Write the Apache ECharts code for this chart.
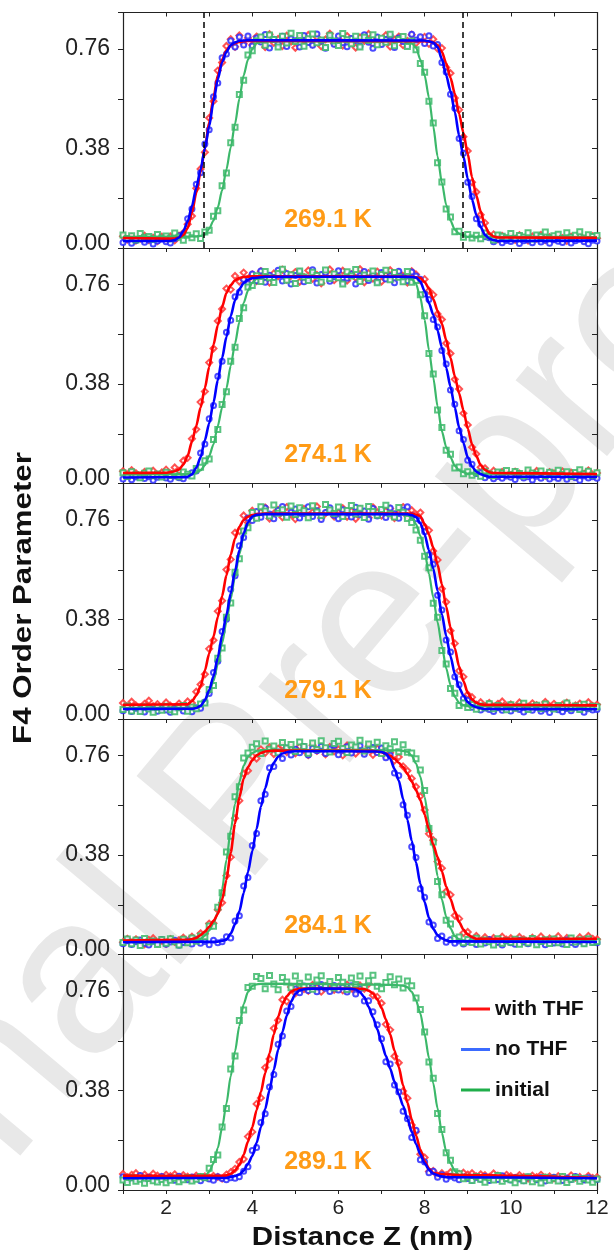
<!DOCTYPE html>
<html>
<head>
<meta charset="utf-8">
<script src="https://cdn.jsdelivr.net/npm/echarts@6/dist/echarts.min.js"></script>
<style>
html,body{margin:0;padding:0;background:#fff;}
#chart{width:614px;height:1256px;}
</style>
</head>
<body>
<div id="chart"></div>
<script>
// ---------------- DATA ----------------
const TEMPERATURES = ['269.1 K', '274.1 K', '279.1 K', '284.1 K', '289.1 K'];
const SERIES_NAMES = ['with THF', 'no THF', 'initial'];
const X_TICK_LABELS = [2, 4, 6, 8, 10, 12];
const Y_TICK_LABELS = [0.00, 0.38, 0.76];
const DASH_Z = [2.88, 8.89];   // dashed markers in the 269.1 K panel

// bin centres (nm) shared by all scatter sets
const X_BINS = [1.0,1.1,1.2,1.3,1.4,1.5,1.6,1.7,1.8,1.9,
2.0,2.1,2.2,2.3,2.4,2.5,2.6,2.7,2.8,2.9,
3.0,3.1,3.2,3.3,3.4,3.5,3.6,3.7,3.8,3.9,
4.0,4.1,4.2,4.3,4.4,4.5,4.6,4.7,4.8,4.9,
5.0,5.1,5.2,5.3,5.4,5.5,5.6,5.7,5.8,5.9,
6.0,6.1,6.2,6.3,6.4,6.5,6.6,6.7,6.8,6.9,
7.0,7.1,7.2,7.3,7.4,7.5,7.6,7.7,7.8,7.9,
8.0,8.1,8.2,8.3,8.4,8.5,8.6,8.7,8.8,8.9,
9.0,9.1,9.2,9.3,9.4,9.5,9.6,9.7,9.8,9.9,
10.0,10.1,10.2,10.3,10.4,10.5,10.6,10.7,10.8,10.9,
11.0,11.1,11.2,11.3,11.4,11.5,11.6,11.7,11.8,11.9,
12.0];

// ---- 269.1 K ----
const P1_WITH_THF_PTS = [0.045,0.032,0.041,0.028,0.036,0.047,0.030,0.039,0.026,0.043,
0.031,0.044,0.029,0.047,0.058,0.091,0.122,0.228,0.302,0.366,
0.497,0.561,0.678,0.709,0.772,0.798,0.769,0.812,0.781,0.803,
0.776,0.808,0.795,0.768,0.817,0.784,0.799,0.772,0.811,0.789,
0.765,0.802,0.793,0.814,0.778,0.806,0.771,0.797,0.819,0.782,
0.799,0.774,0.81,0.787,0.766,0.805,0.792,0.818,0.779,0.801,
0.786,0.813,0.77,0.796,0.808,0.775,0.791,0.815,0.783,0.8,
0.807,0.78,0.798,0.762,0.764,0.69,0.668,0.573,0.528,0.425,
0.371,0.251,0.214,0.127,0.096,0.048,0.052,0.033,0.046,0.035,
0.042,0.031,0.049,0.037,0.028,0.044,0.036,0.05,0.03,0.041,
0.034,0.046,0.038,0.027,0.043,0.035,0.048,0.032,0.04,0.045,
0.037];
const P1_NO_THF_PTS = [0.021,0.033,0.018,0.029,0.036,0.022,0.031,0.015,0.027,0.034,
0.024,0.019,0.035,0.047,0.052,0.112,0.149,0.244,0.288,0.397,
0.452,0.578,0.631,0.727,0.741,0.792,0.768,0.806,0.776,0.81,
0.772,0.803,0.787,0.816,0.764,0.798,0.781,0.809,0.77,0.8,
0.792,0.768,0.812,0.785,0.775,0.818,0.79,0.763,0.804,0.779,
0.81,0.784,0.769,0.801,0.793,0.772,0.815,0.786,0.763,0.806,
0.778,0.797,0.811,0.766,0.803,0.789,0.774,0.817,0.795,0.807,
0.782,0.811,0.772,0.778,0.709,0.673,0.588,0.534,0.418,0.362,
0.251,0.197,0.112,0.091,0.043,0.039,0.024,0.033,0.02,0.029,
0.025,0.034,0.017,0.028,0.031,0.02,0.036,0.023,0.03,0.018,
0.032,0.026,0.021,0.035,0.019,0.028,0.033,0.024,0.016,0.03,
0.027];
const P1_INITIAL_PTS = [0.05,0.036,0.047,0.031,0.055,0.04,0.044,0.033,0.052,0.038,
0.046,0.035,0.057,0.041,0.03,0.049,0.039,0.054,0.036,0.061,
0.068,0.121,0.142,0.238,0.287,0.402,0.461,0.587,0.641,0.738,
0.754,0.792,0.806,0.775,0.814,0.797,0.768,0.809,0.783,0.821,
0.789,0.812,0.771,0.8,0.818,0.784,0.795,0.766,0.813,0.791,
0.774,0.82,0.796,0.781,0.809,0.768,0.805,0.793,0.815,0.777,
0.802,0.786,0.817,0.773,0.797,0.808,0.77,0.791,0.758,0.705,
0.672,0.561,0.478,0.326,0.252,0.149,0.118,0.062,0.064,0.041,
0.052,0.038,0.049,0.035,0.057,0.043,0.031,0.05,0.045,0.039,
0.055,0.037,0.048,0.042,0.058,0.034,0.05,0.044,0.061,0.039,
0.047,0.053,0.036,0.058,0.041,0.049,0.062,0.038,0.051,0.044,
0.048];
const P1_WITH_THF_FIT = [[1,0.038],[2.0,0.036],[2.2,0.036],[2.3,0.04],[2.4,0.05],[2.5,0.075],[2.6,0.135],[2.7,0.21],[2.8,0.29],[2.9,0.38],[3.0,0.48],[3.1,0.575],[3.2,0.66],[3.3,0.72],[3.4,0.755],[3.5,0.775],[3.6,0.783],[3.7,0.788],[3.9,0.792],[8.0,0.79],[8.1,0.789],[8.2,0.785],[8.3,0.776],[8.4,0.75],[8.5,0.706],[8.6,0.65],[8.7,0.59],[8.8,0.513],[8.9,0.44],[9.0,0.36],[9.1,0.27],[9.2,0.2],[9.3,0.14],[9.4,0.085],[9.5,0.055],[9.6,0.044],[9.7,0.04],[12,0.039]];
const P1_NO_THF_FIT = [[1,0.027],[2.1,0.027],[2.2,0.03],[2.3,0.04],[2.4,0.065],[2.5,0.1],[2.6,0.16],[2.7,0.23],[2.8,0.3],[2.9,0.38],[3.0,0.465],[3.1,0.56],[3.2,0.645],[3.3,0.71],[3.4,0.75],[3.5,0.775],[3.6,0.786],[3.7,0.792],[3.9,0.794],[8.0,0.793],[8.1,0.79],[8.2,0.785],[8.3,0.768],[8.4,0.722],[8.5,0.66],[8.6,0.6],[8.7,0.52],[8.8,0.43],[8.9,0.35],[9.0,0.265],[9.1,0.185],[9.2,0.126],[9.3,0.08],[9.4,0.05],[9.5,0.036],[9.6,0.03],[9.7,0.027],[12,0.028]];
const P1_INITIAL_FIT = [[1,0.043],[2.7,0.044],[2.8,0.046],[2.9,0.052],[3.0,0.073],[3.1,0.105],[3.2,0.155],[3.3,0.22],[3.4,0.3],[3.5,0.385],[3.6,0.475],[3.7,0.57],[3.8,0.66],[3.9,0.72],[4.0,0.76],[4.1,0.783],[4.2,0.788],[4.3,0.79],[7.5,0.79],[7.6,0.789],[7.7,0.782],[7.8,0.766],[7.9,0.72],[8.0,0.66],[8.1,0.575],[8.2,0.465],[8.3,0.35],[8.4,0.25],[8.5,0.165],[8.6,0.105],[8.7,0.07],[8.8,0.055],[8.9,0.047],[9.0,0.043],[12,0.042]];

// ---- 274.1 K ----
const P2_WITH_THF_PTS = [0.047,0.034,0.051,0.039,0.028,0.044,0.036,0.049,0.032,0.042,
0.053,0.038,0.061,0.049,0.087,0.098,0.171,0.207,0.311,0.352,
0.462,0.516,0.621,0.667,0.745,0.741,0.793,0.772,0.806,0.781,
0.799,0.774,0.811,0.786,0.768,0.803,0.792,0.817,0.779,0.795,
0.808,0.771,0.789,0.814,0.782,0.797,0.765,0.806,0.818,0.777,
0.791,0.813,0.775,0.8,0.786,0.819,0.769,0.804,0.783,0.81,
0.772,0.796,0.815,0.781,0.807,0.792,0.768,0.811,0.799,0.776,
0.781,0.737,0.721,0.648,0.627,0.536,0.497,0.398,0.361,0.268,
0.224,0.139,0.113,0.062,0.058,0.037,0.049,0.033,0.044,0.039,
0.031,0.045,0.038,0.027,0.042,0.034,0.048,0.036,0.029,0.043,
0.039,0.03,0.046,0.035,0.041,0.028,0.044,0.037,0.05,0.033,
0.04];
const P2_NO_THF_PTS = [0.017,0.028,0.014,0.025,0.031,0.019,0.026,0.012,0.024,0.03,
0.021,0.016,0.029,0.022,0.018,0.032,0.041,0.048,0.117,0.151,
0.247,0.298,0.41,0.467,0.578,0.624,0.714,0.731,0.781,0.763,
0.801,0.775,0.812,0.769,0.796,0.787,0.815,0.774,0.803,0.762,
0.795,0.809,0.771,0.784,0.817,0.766,0.799,0.805,0.773,0.79,
0.813,0.768,0.784,0.801,0.762,0.794,0.81,0.776,0.798,0.771,
0.806,0.782,0.793,0.767,0.811,0.789,0.775,0.808,0.793,0.781,
0.724,0.703,0.627,0.598,0.508,0.457,0.357,0.303,0.202,0.168,
0.089,0.074,0.038,0.041,0.022,0.031,0.018,0.027,0.02,0.029,
0.024,0.015,0.03,0.021,0.026,0.013,0.028,0.02,0.032,0.017,
0.025,0.019,0.031,0.016,0.027,0.022,0.012,0.029,0.021,0.026,
0.02];
const P2_INITIAL_PTS = [0.041,0.027,0.045,0.033,0.022,0.039,0.048,0.03,0.036,0.025,
0.043,0.031,0.038,0.026,0.044,0.035,0.029,0.057,0.062,0.087,
0.094,0.168,0.206,0.302,0.351,0.467,0.521,0.631,0.672,0.751,
0.757,0.794,0.772,0.81,0.786,0.768,0.803,0.819,0.777,0.798,
0.764,0.812,0.789,0.776,0.807,0.795,0.77,0.816,0.783,0.801,
0.786,0.762,0.809,0.793,0.818,0.772,0.797,0.784,0.812,0.767,
0.799,0.815,0.779,0.806,0.788,0.771,0.81,0.769,0.776,0.721,
0.641,0.497,0.418,0.281,0.214,0.127,0.112,0.059,0.063,0.037,
0.045,0.032,0.041,0.028,0.047,0.036,0.03,0.044,0.039,0.05,
0.033,0.046,0.038,0.029,0.052,0.04,0.035,0.048,0.031,0.043,
0.037,0.051,0.034,0.045,0.028,0.042,0.053,0.036,0.047,0.032,
0.041];
const P2_WITH_THF_FIT = [[1,0.04],[2.0,0.041],[2.1,0.043],[2.2,0.047],[2.3,0.053],[2.4,0.072],[2.5,0.105],[2.6,0.16],[2.7,0.22],[2.8,0.29],[2.9,0.365],[3.0,0.445],[3.1,0.53],[3.2,0.605],[3.3,0.675],[3.4,0.728],[3.5,0.758],[3.6,0.777],[3.7,0.785],[3.8,0.789],[4.0,0.792],[7.7,0.791],[7.8,0.788],[7.9,0.785],[8.0,0.77],[8.1,0.745],[8.2,0.705],[8.3,0.66],[8.4,0.61],[8.5,0.548],[8.6,0.48],[8.7,0.41],[8.8,0.345],[8.9,0.28],[9.0,0.21],[9.1,0.15],[9.2,0.105],[9.3,0.07],[9.4,0.052],[9.5,0.043],[9.6,0.04],[12,0.036]];
const P2_NO_THF_FIT = [[1,0.023],[2.4,0.024],[2.5,0.026],[2.6,0.035],[2.7,0.06],[2.8,0.1],[2.9,0.165],[3.0,0.23],[3.1,0.31],[3.2,0.395],[3.3,0.48],[3.4,0.56],[3.5,0.64],[3.6,0.7],[3.7,0.743],[3.8,0.766],[3.9,0.779],[4.0,0.785],[4.3,0.79],[7.6,0.79],[7.7,0.789],[7.8,0.787],[7.9,0.772],[8.0,0.735],[8.1,0.69],[8.2,0.645],[8.3,0.585],[8.4,0.52],[8.5,0.442],[8.6,0.37],[8.7,0.29],[8.8,0.215],[8.9,0.155],[9.0,0.1],[9.1,0.065],[9.2,0.045],[9.3,0.036],[9.4,0.03],[9.5,0.026],[12,0.025]];
const P2_INITIAL_FIT = [[1,0.034],[2.6,0.036],[2.7,0.04],[2.8,0.05],[2.9,0.07],[3.0,0.105],[3.1,0.15],[3.2,0.22],[3.3,0.29],[3.4,0.364],[3.5,0.45],[3.6,0.535],[3.7,0.617],[3.8,0.69],[3.9,0.737],[4.0,0.768],[4.1,0.782],[4.2,0.788],[4.4,0.79],[7.5,0.79],[7.6,0.788],[7.7,0.782],[7.8,0.763],[7.9,0.71],[8.0,0.625],[8.1,0.51],[8.2,0.405],[8.3,0.295],[8.4,0.2],[8.5,0.14],[8.6,0.1],[8.7,0.068],[8.8,0.05],[8.9,0.043],[9.0,0.038],[12,0.035]];

// ---- 279.1 K ----
const P3_WITH_THF_PTS = [0.061,0.047,0.066,0.052,0.043,0.058,0.07,0.049,0.057,0.045,
0.063,0.051,0.044,0.059,0.048,0.067,0.061,0.104,0.132,0.171,
0.268,0.301,0.412,0.452,0.571,0.61,0.712,0.718,0.778,0.751,
0.796,0.772,0.791,0.808,0.766,0.785,0.799,0.771,0.81,0.781,
0.764,0.794,0.803,0.776,0.79,0.812,0.768,0.786,0.797,0.774,
0.788,0.806,0.773,0.795,0.765,0.801,0.784,0.769,0.809,0.79,
0.777,0.795,0.804,0.768,0.787,0.81,0.775,0.798,0.782,0.789,
0.734,0.721,0.642,0.608,0.498,0.447,0.337,0.289,0.184,0.161,
0.094,0.083,0.055,0.064,0.049,0.061,0.046,0.058,0.067,0.05,
0.056,0.044,0.063,0.051,0.047,0.06,0.053,0.042,0.065,0.049,
0.058,0.046,0.055,0.062,0.043,0.052,0.059,0.047,0.064,0.05,
0.055];
const P3_NO_THF_PTS = [0.032,0.045,0.029,0.041,0.035,0.027,0.044,0.037,0.03,0.042,
0.034,0.026,0.04,0.046,0.031,0.039,0.028,0.043,0.041,0.065,
0.097,0.178,0.221,0.334,0.381,0.496,0.547,0.662,0.694,0.768,
0.759,0.793,0.771,0.806,0.783,0.765,0.798,0.812,0.777,0.79,
0.803,0.768,0.785,0.811,0.774,0.796,0.762,0.789,0.807,0.779,
0.765,0.8,0.787,0.772,0.809,0.781,0.795,0.763,0.804,0.776,
0.792,0.77,0.806,0.784,0.767,0.799,0.811,0.778,0.765,0.759,
0.716,0.628,0.591,0.473,0.417,0.302,0.256,0.161,0.131,0.078,
0.072,0.045,0.051,0.034,0.042,0.036,0.029,0.043,0.033,0.04,
0.031,0.044,0.036,0.027,0.041,0.033,0.046,0.03,0.038,0.025,
0.043,0.035,0.028,0.04,0.032,0.046,0.037,0.026,0.039,0.034,
0.036];
const P3_INITIAL_PTS = [0.036,0.05,0.031,0.044,0.029,0.047,0.038,0.026,0.045,0.033,
0.049,0.035,0.028,0.043,0.052,0.03,0.046,0.039,0.057,0.061,
0.113,0.128,0.232,0.271,0.389,0.443,0.561,0.612,0.718,0.731,
0.789,0.767,0.811,0.795,0.776,0.818,0.786,0.8,0.771,0.814,
0.782,0.807,0.796,0.769,0.815,0.791,0.778,0.82,0.799,0.785,
0.81,0.774,0.797,0.816,0.783,0.805,0.77,0.812,0.793,0.779,
0.801,0.817,0.784,0.772,0.808,0.79,0.766,0.751,0.722,0.683,
0.622,0.578,0.442,0.389,0.262,0.21,0.117,0.098,0.052,0.061,
0.044,0.055,0.037,0.05,0.043,0.058,0.039,0.052,0.046,0.035,
0.054,0.041,0.049,0.06,0.036,0.047,0.053,0.04,0.057,0.044,
0.038,0.052,0.045,0.061,0.041,0.05,0.036,0.056,0.043,0.049,
0.047];
const P3_WITH_THF_FIT = [[1,0.054],[2.5,0.056],[2.6,0.068],[2.7,0.09],[2.8,0.125],[2.9,0.185],[3.0,0.25],[3.1,0.315],[3.2,0.39],[3.3,0.47],[3.4,0.549],[3.5,0.628],[3.6,0.69],[3.7,0.735],[3.8,0.76],[3.9,0.773],[4.0,0.779],[4.1,0.783],[4.3,0.785],[7.7,0.785],[7.8,0.781],[7.9,0.775],[8.0,0.745],[8.1,0.705],[8.2,0.655],[8.3,0.59],[8.4,0.515],[8.5,0.43],[8.6,0.35],[8.7,0.27],[8.8,0.2],[8.9,0.145],[9.0,0.1],[9.1,0.075],[9.2,0.062],[9.3,0.056],[9.4,0.054],[12,0.052]];
const P3_NO_THF_FIT = [[1,0.038],[2.6,0.039],[2.7,0.042],[2.8,0.05],[2.9,0.072],[3.0,0.11],[3.1,0.163],[3.2,0.235],[3.3,0.32],[3.4,0.397],[3.5,0.48],[3.6,0.565],[3.7,0.645],[3.8,0.71],[3.9,0.752],[4.0,0.774],[4.1,0.78],[4.3,0.783],[7.6,0.783],[7.7,0.779],[7.8,0.772],[7.9,0.748],[8.0,0.705],[8.1,0.645],[8.2,0.575],[8.3,0.49],[8.4,0.4],[8.5,0.318],[8.6,0.24],[8.7,0.172],[8.8,0.12],[8.9,0.09],[9.0,0.065],[9.1,0.052],[9.2,0.045],[9.3,0.041],[9.4,0.038],[12,0.037]];
const P3_INITIAL_FIT = [[1,0.042],[2.6,0.043],[2.7,0.045],[2.8,0.05],[2.9,0.068],[3.0,0.1],[3.1,0.145],[3.2,0.21],[3.3,0.29],[3.4,0.371],[3.5,0.46],[3.6,0.545],[3.7,0.63],[3.8,0.7],[3.9,0.748],[4.0,0.773],[4.1,0.78],[4.3,0.783],[7.5,0.783],[7.6,0.78],[7.7,0.772],[7.8,0.745],[7.9,0.7],[8.0,0.64],[8.1,0.555],[8.2,0.465],[8.3,0.37],[8.4,0.28],[8.5,0.194],[8.6,0.13],[8.7,0.085],[8.8,0.062],[8.9,0.053],[9.0,0.049],[12,0.048]];

// ---- 284.1 K ----
const P4_WITH_THF_PTS = [0.047,0.06,0.044,0.058,0.05,0.039,0.056,0.062,0.045,0.053,
0.041,0.059,0.048,0.055,0.064,0.049,0.068,0.057,0.081,0.079,
0.118,0.119,0.171,0.198,0.301,0.372,0.521,0.588,0.691,0.702,
0.758,0.749,0.784,0.771,0.792,0.766,0.787,0.798,0.774,0.79,
0.769,0.795,0.781,0.762,0.8,0.778,0.788,0.765,0.793,0.776,
0.784,0.761,0.799,0.79,0.768,0.785,0.772,0.796,0.763,0.787,
0.779,0.758,0.771,0.741,0.755,0.719,0.702,0.673,0.641,0.605,
0.552,0.461,0.437,0.355,0.33,0.241,0.228,0.149,0.137,0.082,
0.086,0.058,0.071,0.052,0.066,0.055,0.063,0.049,0.068,0.057,
0.062,0.051,0.067,0.058,0.047,0.064,0.055,0.069,0.05,0.061,
0.056,0.07,0.052,0.063,0.059,0.048,0.066,0.057,0.071,0.06,
0.058];
const P4_NO_THF_PTS = [0.041,0.053,0.038,0.049,0.055,0.043,0.036,0.051,0.044,0.057,
0.039,0.048,0.054,0.035,0.046,0.052,0.04,0.056,0.043,0.05,
0.037,0.054,0.045,0.049,0.068,0.063,0.128,0.148,0.262,0.294,
0.417,0.462,0.588,0.612,0.714,0.718,0.774,0.749,0.789,0.762,
0.784,0.771,0.795,0.762,0.788,0.779,0.796,0.768,0.785,0.8,
0.763,0.781,0.794,0.77,0.786,0.798,0.765,0.782,0.791,0.772,
0.789,0.752,0.761,0.694,0.684,0.572,0.532,0.412,0.371,0.251,
0.219,0.124,0.113,0.061,0.071,0.047,0.056,0.043,0.052,0.04,
0.049,0.055,0.038,0.051,0.044,0.057,0.042,0.047,0.036,0.053,
0.045,0.039,0.054,0.048,0.041,0.056,0.043,0.05,0.037,0.052,
0.044,0.049,0.04,0.055,0.046,0.038,0.051,0.043,0.057,0.047,
0.045];
const P4_INITIAL_PTS = [0.046,0.059,0.041,0.055,0.034,0.061,0.048,0.052,0.038,0.057,
0.043,0.06,0.049,0.036,0.058,0.045,0.063,0.051,0.071,0.068,
0.109,0.108,0.181,0.236,0.392,0.452,0.603,0.641,0.751,0.77,
0.792,0.805,0.768,0.816,0.784,0.797,0.771,0.81,0.789,0.803,
0.776,0.812,0.795,0.769,0.808,0.783,0.817,0.79,0.774,0.806,
0.815,0.787,0.772,0.801,0.793,0.819,0.778,0.804,0.784,0.811,
0.768,0.798,0.786,0.813,0.775,0.802,0.773,0.77,0.748,0.705,
0.627,0.482,0.43,0.279,0.228,0.131,0.117,0.061,0.067,0.045,
0.057,0.046,0.062,0.04,0.055,0.049,0.036,0.06,0.043,0.053,
0.047,0.058,0.039,0.054,0.044,0.061,0.037,0.05,0.056,0.042,
0.059,0.045,0.052,0.038,0.063,0.048,0.055,0.041,0.06,0.046,
0.05];
const P4_WITH_THF_FIT = [[1,0.053],[2.5,0.056],[2.6,0.059],[2.7,0.063],[2.8,0.074],[2.9,0.087],[3.0,0.106],[3.1,0.128],[3.2,0.155],[3.3,0.21],[3.4,0.285],[3.5,0.39],[3.6,0.5],[3.7,0.6],[3.8,0.672],[3.9,0.716],[4.0,0.742],[4.1,0.761],[4.2,0.77],[4.3,0.776],[4.5,0.779],[6.8,0.778],[6.9,0.776],[7.0,0.773],[7.1,0.766],[7.2,0.76],[7.3,0.748],[7.4,0.733],[7.5,0.716],[7.6,0.69],[7.7,0.662],[7.8,0.628],[7.9,0.59],[8.0,0.535],[8.1,0.478],[8.2,0.42],[8.3,0.372],[8.4,0.318],[8.5,0.26],[8.6,0.212],[8.7,0.165],[8.8,0.124],[8.9,0.095],[9.0,0.077],[9.1,0.066],[9.2,0.06],[12,0.06]];
const P4_NO_THF_FIT = [[1,0.047],[3.2,0.049],[3.3,0.052],[3.4,0.057],[3.5,0.08],[3.6,0.115],[3.7,0.165],[3.8,0.235],[3.9,0.315],[4.0,0.395],[4.1,0.48],[4.2,0.565],[4.3,0.635],[4.4,0.695],[4.5,0.733],[4.6,0.756],[4.7,0.768],[4.8,0.773],[4.9,0.776],[5.1,0.777],[6.9,0.776],[7.0,0.774],[7.1,0.768],[7.2,0.748],[7.3,0.71],[7.4,0.665],[7.5,0.595],[7.6,0.515],[7.7,0.435],[7.8,0.352],[7.9,0.27],[8.0,0.2],[8.1,0.14],[8.2,0.098],[8.3,0.074],[8.4,0.062],[8.5,0.054],[8.6,0.05],[12,0.048]];
const P4_INITIAL_FIT = [[1,0.053],[2.7,0.055],[2.8,0.06],[2.9,0.072],[3.0,0.092],[3.1,0.12],[3.2,0.16],[3.3,0.25],[3.4,0.361],[3.5,0.475],[3.6,0.575],[3.7,0.66],[3.8,0.722],[3.9,0.755],[4.0,0.77],[4.1,0.778],[4.2,0.781],[4.4,0.782],[7.4,0.78],[7.5,0.778],[7.6,0.775],[7.7,0.76],[7.8,0.73],[7.9,0.68],[8.0,0.602],[8.1,0.505],[8.2,0.405],[8.3,0.3],[8.4,0.21],[8.5,0.145],[8.6,0.1],[8.7,0.07],[8.8,0.058],[8.9,0.053],[9.0,0.051],[12,0.05]];

// ---- 289.1 K ----
const P5_WITH_THF_PTS = [0.061,0.049,0.058,0.064,0.052,0.059,0.047,0.062,0.055,0.05,
0.058,0.053,0.06,0.048,0.057,0.051,0.046,0.055,0.049,0.052,
0.047,0.054,0.05,0.044,0.059,0.068,0.081,0.107,0.118,0.204,
0.222,0.329,0.352,0.468,0.501,0.618,0.649,0.727,0.721,0.776,
0.752,0.781,0.768,0.761,0.784,0.774,0.758,0.779,0.787,0.765,
0.777,0.763,0.785,0.771,0.757,0.782,0.769,0.788,0.744,0.738,
0.714,0.633,0.612,0.511,0.486,0.378,0.351,0.248,0.223,0.137,
0.124,0.071,0.073,0.055,0.064,0.057,0.068,0.053,0.061,0.066,
0.059,0.064,0.052,0.06,0.057,0.05,0.063,0.055,0.048,0.058,
0.053,0.046,0.057,0.05,0.044,0.055,0.049,0.058,0.047,0.052,
0.045,0.053,0.048,0.041,0.056,0.047,0.05,0.043,0.054,0.046,
0.049];
const P5_NO_THF_PTS = [0.051,0.039,0.047,0.042,0.055,0.038,0.049,0.044,0.036,0.052,
0.041,0.048,0.037,0.053,0.043,0.039,0.05,0.046,0.035,0.048,
0.042,0.037,0.051,0.044,0.039,0.047,0.045,0.051,0.072,0.089,
0.151,0.162,0.258,0.291,0.394,0.441,0.557,0.589,0.684,0.701,
0.768,0.754,0.78,0.762,0.777,0.758,0.785,0.771,0.759,0.782,
0.764,0.776,0.757,0.781,0.749,0.769,0.722,0.723,0.681,0.632,
0.578,0.49,0.482,0.401,0.375,0.301,0.272,0.201,0.228,0.116,
0.107,0.066,0.072,0.049,0.058,0.041,0.053,0.046,0.039,0.05,
0.044,0.037,0.049,0.041,0.052,0.036,0.046,0.04,0.054,0.043,
0.038,0.047,0.042,0.035,0.05,0.044,0.039,0.048,0.034,0.045,
0.049,0.041,0.036,0.046,0.04,0.052,0.043,0.038,0.047,0.042,
0.04];
const P5_INITIAL_PTS = [0.038,0.029,0.047,0.033,0.041,0.026,0.044,0.035,0.031,0.04,
0.028,0.037,0.045,0.032,0.039,0.048,0.034,0.041,0.052,0.047,
0.083,0.117,0.134,0.241,0.311,0.462,0.512,0.648,0.688,0.774,
0.779,0.816,0.808,0.769,0.82,0.787,0.765,0.812,0.795,0.773,
0.818,0.79,0.776,0.814,0.767,0.803,0.819,0.781,0.797,0.772,
0.812,0.794,0.766,0.81,0.785,0.818,0.774,0.8,0.821,0.779,
0.769,0.793,0.815,0.784,0.806,0.772,0.799,0.781,0.734,0.69,
0.604,0.489,0.427,0.292,0.231,0.142,0.114,0.07,0.062,0.043,
0.049,0.036,0.052,0.041,0.03,0.047,0.038,0.055,0.033,0.044,
0.039,0.028,0.046,0.035,0.051,0.032,0.043,0.027,0.049,0.037,
0.045,0.034,0.052,0.029,0.041,0.048,0.033,0.044,0.038,0.03,
0.042];
const P5_WITH_THF_FIT = [[1,0.055],[2.5,0.054],[3.3,0.054],[3.4,0.056],[3.5,0.062],[3.6,0.075],[3.7,0.096],[3.8,0.135],[3.9,0.185],[4.0,0.24],[4.1,0.305],[4.2,0.375],[4.3,0.447],[4.4,0.522],[4.5,0.595],[4.6,0.662],[4.7,0.71],[4.8,0.74],[4.9,0.758],[5.0,0.766],[5.1,0.769],[5.3,0.77],[6.5,0.769],[6.6,0.768],[6.7,0.762],[6.8,0.751],[6.9,0.73],[7.0,0.696],[7.1,0.652],[7.2,0.595],[7.3,0.533],[7.4,0.47],[7.5,0.4],[7.6,0.334],[7.7,0.27],[7.8,0.208],[7.9,0.155],[8.0,0.11],[8.1,0.082],[8.2,0.066],[8.3,0.062],[8.4,0.06],[9.0,0.057],[12,0.046]];
const P5_NO_THF_FIT = [[1,0.045],[3.4,0.046],[3.5,0.05],[3.6,0.054],[3.7,0.059],[3.8,0.074],[3.9,0.1],[4.0,0.13],[4.1,0.18],[4.2,0.24],[4.3,0.31],[4.4,0.382],[4.5,0.46],[4.6,0.536],[4.7,0.605],[4.8,0.666],[4.9,0.72],[5.0,0.75],[5.1,0.763],[5.2,0.767],[5.4,0.77],[6.2,0.769],[6.3,0.768],[6.4,0.766],[6.5,0.756],[6.6,0.737],[6.7,0.7],[6.8,0.66],[6.9,0.615],[7.0,0.562],[7.1,0.513],[7.2,0.464],[7.3,0.414],[7.4,0.366],[7.5,0.322],[7.6,0.272],[7.7,0.222],[7.8,0.176],[7.9,0.136],[8.0,0.102],[8.1,0.078],[8.2,0.063],[8.3,0.056],[8.4,0.052],[8.5,0.049],[12,0.045]];
const P5_INITIAL_FIT = [[1,0.045],[2.7,0.046],[2.8,0.048],[2.9,0.052],[3.0,0.07],[3.1,0.102],[3.2,0.16],[3.3,0.238],[3.4,0.33],[3.5,0.435],[3.6,0.53],[3.7,0.627],[3.8,0.71],[3.9,0.757],[4.0,0.78],[4.1,0.786],[4.3,0.789],[7.3,0.784],[7.5,0.781],[7.6,0.775],[7.7,0.757],[7.8,0.725],[7.9,0.675],[8.0,0.595],[8.1,0.505],[8.2,0.408],[8.3,0.312],[8.4,0.218],[8.5,0.148],[8.6,0.102],[8.7,0.073],[8.8,0.058],[8.9,0.05],[9.0,0.047],[12,0.045]];

// ---------------- CHART ----------------
const PANELS = [
  {pts:[P1_WITH_THF_PTS, P1_NO_THF_PTS, P1_INITIAL_PTS], fit:[P1_WITH_THF_FIT, P1_NO_THF_FIT, P1_INITIAL_FIT]},
  {pts:[P2_WITH_THF_PTS, P2_NO_THF_PTS, P2_INITIAL_PTS], fit:[P2_WITH_THF_FIT, P2_NO_THF_FIT, P2_INITIAL_FIT]},
  {pts:[P3_WITH_THF_PTS, P3_NO_THF_PTS, P3_INITIAL_PTS], fit:[P3_WITH_THF_FIT, P3_NO_THF_FIT, P3_INITIAL_FIT]},
  {pts:[P4_WITH_THF_PTS, P4_NO_THF_PTS, P4_INITIAL_PTS], fit:[P4_WITH_THF_FIT, P4_NO_THF_FIT, P4_INITIAL_FIT]},
  {pts:[P5_WITH_THF_PTS, P5_NO_THF_PTS, P5_INITIAL_PTS], fit:[P5_WITH_THF_FIT, P5_NO_THF_FIT, P5_INITIAL_FIT]}
];

const FONT = '"Liberation Sans", Arial, Helvetica, sans-serif';
const AXIS_COLOR = '#222';
const LINE_COLORS = ['#ff0000', '#0000ff', '#3cb86a'];
const PT_COLORS = ['#ff3434', '#2a2aff', '#3cb86a'];
const LEGEND_COLORS = ['#ff1010', '#3b6bff', '#1fae4a'];
const SYMBOLS = ['emptyDiamond', 'emptyCircle', 'emptyRect'];
const SYMBOL_SIZES = [6, 5, 5];
const LINE_WIDTHS = [2.6, 2.6, 2.2];

const GRID_LEFT = 123, GRID_RIGHT = 17, GRID_H = 235.5;
const GRID_TOPS = [12.5, 248, 483.5, 719, 954.5];

const near = (a, b) => Math.abs(a - b) < 1e-6;

const grids = [], xAxes = [], yAxes = [], series = [], graphics = [];

PANELS.forEach((p, i) => {
  grids.push({left: GRID_LEFT, right: GRID_RIGHT, top: GRID_TOPS[i], height: GRID_H, containLabel: false});
  const isLast = i === PANELS.length - 1;
  xAxes.push({
    gridIndex: i, type: 'value', min: 1, max: 12, interval: 1, position: 'bottom',
    axisLine: {show: true, onZero: false, lineStyle: {color: AXIS_COLOR, width: 1.2}},
    axisTick: {show: true, inside: false, length: 4, lineStyle: {color: AXIS_COLOR}},
    axisLabel: {show: isLast, fontSize: 21, color: AXIS_COLOR, margin: 8, fontFamily: FONT,
      showMinLabel: true, showMaxLabel: true,
      formatter: v => X_TICK_LABELS.some(t => near(t, v)) ? String(Math.round(v)) : ''},
    splitLine: {show: false}
  });
  xAxes.push({
    gridIndex: i, type: 'value', min: 1, max: 12, interval: 1, position: 'top',
    axisLine: {show: true, onZero: false, lineStyle: {color: AXIS_COLOR, width: 1.2}},
    axisTick: {show: true, inside: true, length: 4, lineStyle: {color: AXIS_COLOR}},
    axisLabel: {show: false}, splitLine: {show: false}
  });
  yAxes.push({
    gridIndex: i, type: 'value', min: 0, max: 0.9, interval: 0.19, position: 'left',
    axisLine: {show: true, onZero: false, lineStyle: {color: AXIS_COLOR, width: 1.2}},
    axisTick: {show: true, inside: false, length: 5, lineStyle: {color: AXIS_COLOR}},
    axisLabel: {show: true, fontSize: 23, color: AXIS_COLOR, margin: 13, fontFamily: FONT,
      formatter: v => {
        if (near(v, 0)) return '{z|0.00}';
        const t = Y_TICK_LABELS.find(t => near(t, v));
        return t !== undefined ? t.toFixed(2) : '';
      },
      rich: {z: {fontSize: 23, color: AXIS_COLOR, fontFamily: FONT, padding: [0, 0, 9, 0]}}
    },
    splitLine: {show: false}
  });
  yAxes.push({
    gridIndex: i, type: 'value', min: 0, max: 0.9, interval: 0.19, position: 'right',
    axisLine: {show: true, onZero: false, lineStyle: {color: AXIS_COLOR, width: 1.2}},
    axisTick: {show: true, inside: true, length: 5, lineStyle: {color: AXIS_COLOR}},
    axisLabel: {show: false}, splitLine: {show: false}
  });

  // scatter points
  p.pts.forEach((vals, k) => {
    series.push({
      type: 'scatter', name: SERIES_NAMES[k] + ' (data ' + TEMPERATURES[i] + ')',
      xAxisIndex: 2 * i, yAxisIndex: 2 * i,
      symbol: SYMBOLS[k], symbolSize: SYMBOL_SIZES[k],
      itemStyle: {color: PT_COLORS[k], borderColor: PT_COLORS[k], borderWidth: 1, opacity: 0.85},
      data: X_BINS.map((x, j) => [x, vals[j]]),
      z: 2, silent: true
    });
  });
  // fitted lines, drawn green, red, blue (blue on top)
  [2, 0, 1].forEach(k => {
    const s = {
      type: 'line', name: SERIES_NAMES[k],
      xAxisIndex: 2 * i, yAxisIndex: 2 * i,
      data: p.fit[k], showSymbol: false, symbol: 'none',
      smooth: 0.25, smoothMonotone: 'x',
      lineStyle: {color: LINE_COLORS[k], width: LINE_WIDTHS[k]},
      itemStyle: {color: LINE_COLORS[k]},
      z: 3, silent: true
    };
    if (i === 0 && k === 1) {
      s.markLine = {
        silent: true, symbol: ['none', 'none'], label: {show: false},
        lineStyle: {color: '#000', type: [6, 4], width: 1.5},
        data: DASH_Z.map(z => ({xAxis: z}))
      };
    }
    series.push(s);
  });

  graphics.push({
    type: 'text', x: 328, y: GRID_TOPS[i] + GRID_H - 28, z: 10,
    style: {text: TEMPERATURES[i], fill: '#ff9b16', font: 'bold 25px ' + FONT,
      textAlign: 'center', textVerticalAlign: 'middle', align: 'center', verticalAlign: 'middle'}
  });
});

// watermark
graphics.unshift({
  type: 'text', x: 240, y: 797, rotation: 50 * Math.PI / 180, z: -1, silent: true,
  style: {text: 'Journal Pre-proof', fill: '#e8e8e8', font: '225px ' + FONT,
    textAlign: 'center', textVerticalAlign: 'middle', align: 'center', verticalAlign: 'middle'}
});
// axis titles
graphics.push({
  type: 'text', x: 362.5, y: 1238, scaleX: 1.18, z: 10,
  style: {text: 'Distance Z (nm)', fill: '#111', font: 'bold 25px ' + FONT,
    textAlign: 'center', textVerticalAlign: 'middle', align: 'center', verticalAlign: 'middle'}
});
graphics.push({
  type: 'text', x: 24, y: 598, rotation: Math.PI / 2, scaleX: 1.25, z: 10,
  style: {text: 'F4 Order Parameter', fill: '#111', font: 'bold 25px ' + FONT,
    textAlign: 'center', textVerticalAlign: 'middle', align: 'center', verticalAlign: 'middle'}
});

const chart = echarts.init(document.getElementById('chart'), null, {renderer: 'canvas'});
chart.setOption({
  animation: false,
  backgroundColor: '#fff',
  grid: grids,
  xAxis: xAxes,
  yAxis: yAxes,
  legend: {
    show: true, orient: 'vertical', left: 456, top: 993.5,
    icon: 'rect', itemWidth: 29, itemHeight: 3, itemGap: 19.5,
    textStyle: {fontSize: 21, fontWeight: 'bold', color: '#111', fontFamily: FONT},
    data: SERIES_NAMES.map((n, k) => ({name: n, itemStyle: {color: LEGEND_COLORS[k]}})),
    selectedMode: false
  },
  graphic: {elements: graphics},
  series: series
});
</script>
</body>
</html>
